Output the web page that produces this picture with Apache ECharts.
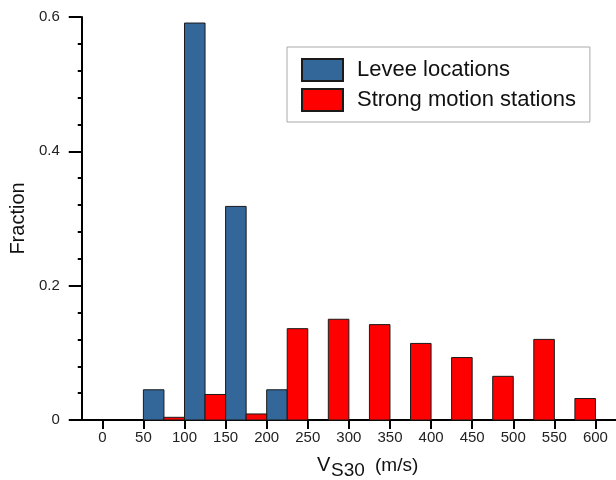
<!DOCTYPE html>
<html lang="en">

<head>
    <meta charset="UTF-8">
    <title>Vs30 histogram</title>
    <script src="https://cdn.jsdelivr.net/npm/echarts@6/dist/echarts.min.js"></script>
</head>

<body style="margin:0">
    <div id="main" style="width:616px; height:480px"></div>
    <script>
        // bin starts (m/s), each bin is 50 wide, split in two halves
        var binStarts = [50, 100, 150, 200, 250, 300, 350, 400, 450, 500, 550]
        var leveeFrac = [0.045, 0.591, 0.318, 0.045, 0, 0, 0, 0, 0, 0, 0]
        var stationFrac = [0.004, 0.038, 0.009, 0.136, 0.150, 0.142, 0.114, 0.093, 0.065, 0.120, 0.032]
        var xTicks = [0, 50, 100, 150, 200, 250, 300, 350, 400, 450, 500, 550, 600]
        var seriesNames = ['Levee locations', 'Strong motion stations']

        var myChart = echarts.init(document.getElementById('main'))

        // levee bar in first half of bin, stations in second half
        var leveeData = []
        var stationData = []
        for (var i = 0; i < binStarts.length; i++) {
            if (leveeFrac[i] > 0) {
                leveeData.push([binStarts[i], binStarts[i] + 25, leveeFrac[i]])
            }
            if (stationFrac[i] > 0) {
                stationData.push([binStarts[i] + 25, binStarts[i] + 50, stationFrac[i]])
            }
        }

        function renderBar(params, api) {
            var p0 = api.coord([api.value(0), api.value(2)])
            var p1 = api.coord([api.value(1), 0])
            return {
                type: 'rect',
                shape: { x: p0[0], y: p0[1], width: p1[0] - p0[0], height: p1[1] - p0[1] },
                style: api.style()
            }
        }

        var font = 'Liberation Sans, Arial, sans-serif'

        var option = {
            animation: false,
            grid: { left: 80, top: 17, width: 538, bottom: 60 },
            legend: {
                orient: 'vertical',
                left: 287,
                top: 47,
                padding: [11, 14, 10, 14],
                borderColor: '#aaa',
                borderWidth: 1,
                itemWidth: 41,
                itemHeight: 22,
                itemGap: 6,
                icon: 'rect',
                textStyle: { fontSize: 22, lineHeight: 22, color: '#111', fontFamily: font, padding: [0, 0, 0, 9] },
                data: seriesNames
            },
            xAxis: {
                type: 'value',
                min: -25,
                max: 625,
                axisLine: { lineStyle: { color: '#000', width: 2 } },
                axisTick: { customValues: xTicks, length: 9, lineStyle: { width: 2, color: '#000' } },
                axisLabel: { customValues: xTicks, fontSize: 15, color: '#222', margin: 10, fontFamily: font },
                splitLine: { show: false }
            },
            yAxis: {
                type: 'value',
                min: 0,
                max: 0.6,
                interval: 0.2,
                name: 'Fraction',
                nameLocation: 'middle',
                nameRotate: 90,
                nameGap: 52,
                nameTextStyle: { fontSize: 20, color: '#111', fontFamily: font },
                axisLine: { show: true, onZero: false, lineStyle: { color: '#000', width: 2 } },
                axisTick: { show: true, length: 13, lineStyle: { width: 2, color: '#000' } },
                minorTick: { show: true, splitNumber: 5, length: 4, lineStyle: { width: 2, color: '#000' } },
                axisLabel: { fontSize: 15, color: '#222', margin: 22, fontFamily: font },
                splitLine: { show: false }
            },
            graphic: [
                { type: 'text', left: 317, top: 455, style: { text: 'V', fill: '#111', font: '20px ' + font } },
                { type: 'text', left: 331, top: 461, style: { text: 'S30', fill: '#111', font: '19px ' + font } },
                { type: 'text', left: 375, top: 456, style: { text: '(m/s)', fill: '#111', font: '19px ' + font } }
            ],
            series: [{
                name: seriesNames[0],
                type: 'custom',
                renderItem: renderBar,
                encode: { x: [0, 1], y: 2 },
                itemStyle: { color: '#336699', borderColor: '#1a1a1a', borderWidth: 1 },
                data: leveeData
            }, {
                name: seriesNames[1],
                type: 'custom',
                renderItem: renderBar,
                encode: { x: [0, 1], y: 2 },
                itemStyle: { color: '#ff0000', borderColor: '#1a1a1a', borderWidth: 1 },
                data: stationData
            }]
        }
        myChart.setOption(option)
    </script>
</body>

</html>
